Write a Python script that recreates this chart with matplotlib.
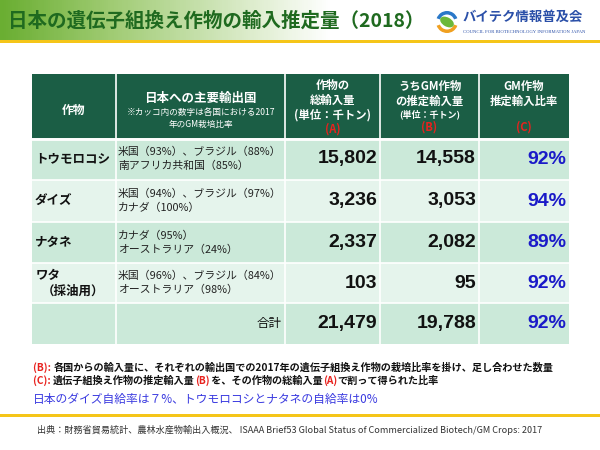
import matplotlib
matplotlib.use("Agg")
import matplotlib.pyplot as plt
import numpy as np
from matplotlib.patches import Rectangle, Wedge, Ellipse
from matplotlib.colors import LinearSegmentedColormap

plt.rcParams['font.family'] = ['Noto Sans CJK JP', 'DejaVu Sans']

# ---- data ----
title = "日本の遺伝子組換え作物の輸入推定量（2018）"
crops = ["トウモロコシ", "ダイズ", "ナタネ", "ワタ"]
crop_sub = ["", "", "", "（採油用）"]
countries = [
    ["米国（93%）、ブラジル（88%）", "南アフリカ共和国（85%）"],
    ["米国（94%）、ブラジル（97%）", "カナダ（100%）"],
    ["カナダ（95%）", "オーストラリア（24%）"],
    ["米国（96%）、ブラジル（84%）", "オーストラリア（98%）"],
]
total_import = [15802, 3236, 2337, 103]
gm_import = [14558, 3053, 2082, 95]
gm_ratio = [92, 94, 89, 92]
sum_total = 21479
sum_gm = 19788
sum_ratio = 92
total_label = "合計"

# ---- layout ----
W, H = 600, 450
fig = plt.figure(figsize=(6, 4.5), dpi=100)
ax = fig.add_axes([0, 0, 1, 1])
ax.set_xlim(0, W)
ax.set_ylim(H, 0)
ax.axis('off')

fig.canvas.draw()
r = fig.canvas.get_renderer()
def text_w(tobj):
    bb = tobj.get_window_extent(r)
    return bb.width
def next_x(tobj):
    bb = tobj.get_window_extent(r)
    return ax.transData.inverted().transform((bb.x1, bb.y0))[0]

# title gradient
cmap = LinearSegmentedColormap.from_list('g', [(0, '#6aae32'), (0.18, '#9fcb72'), (0.55, '#ffffff'), (1, '#ffffff')])
grad = np.linspace(0, 1, 300)[None, :]
ax.imshow(grad, extent=[0, W, 41, 0], cmap=cmap, aspect='auto', zorder=0)
ax.add_patch(Rectangle((0, 40), W, 2.5, color='#f5c518', lw=0, zorder=1))
ax.text(8, 21, title, fontsize=14.05, fontweight='bold', color='#1f6a1f', va='center', ha='left')

# logo
ax.add_patch(Wedge((447, 22), 11, 20, 160, width=3.5, color='#f0a020', lw=0))
ax.add_patch(Wedge((447, 22), 11, 200, 340, width=3.5, color='#2a78c8', lw=0))
ax.add_patch(Ellipse((447, 22), 15, 9, angle=30, color='#6cb83a', lw=0))
ax.text(463, 17, "バイテク情報普及会", fontsize=9.6, fontweight='bold', color='#2a4fa8', va='center', ha='left')
st = ax.text(463, 32, "COUNCIL FOR BIOTECHNOLOGY INFORMATION JAPAN", fontsize=4, color='#2a4fa8',
             va='center', ha='left', family='Liberation Serif')
w = text_w(st)
st.set_fontsize(4 * 120.0 / w)

# table geometry
xs = [32, 116, 285, 380, 479, 569]
hdr_top, hdr_bot = 74, 138
row_edges = [138, 180, 222, 263, 303, 344]
hdr_col = '#1b5e45'
row_cols = ['#cbe9d9', '#e5f4ec', '#cbe9d9', '#e5f4ec', '#cbe9d9']

ax.add_patch(Rectangle((xs[0], hdr_top), xs[-1] - xs[0], hdr_bot - hdr_top, color=hdr_col, lw=0))
for i in range(5):
    ax.add_patch(Rectangle((xs[0], row_edges[i]), xs[-1] - xs[0], row_edges[i + 1] - row_edges[i],
                           color=row_cols[i], lw=0))
for x in xs[1:-1]:
    ax.plot([x, x], [hdr_top, row_edges[-1]], color='white', lw=1.2)
for y in row_edges[1:-1]:
    ax.plot([xs[0], xs[-1]], [y, y], color='white', lw=1.2)
ax.plot([xs[0], xs[-1]], [hdr_bot + 0.5, hdr_bot + 0.5], color='white', lw=2)

# header text
wb = dict(color='white', fontweight='bold', ha='center', va='center')
ax.text((xs[0] + xs[1]) / 2, 110, "作物", fontsize=8.5, **wb)
cx = (xs[1] + xs[2]) / 2
ax.text(cx, 98, "日本への主要輸出国", fontsize=9, **wb)
ax.text(cx, 113, "※カッコ内の数字は各国における2017", fontsize=6.2, color='white', ha='center', va='center')
ax.text(cx, 125, "年のGM栽培比率", fontsize=6.2, color='white', ha='center', va='center')
cx = (xs[2] + xs[3]) / 2
ax.text(cx, 85, "作物の", fontsize=8.2, **wb)
ax.text(cx, 100, "総輸入量", fontsize=8.2, **wb)
ax.text(cx, 115, "(単位：千トン)", fontsize=8.2, **wb)
ax.text(cx, 129, "(A)", fontsize=8, color='#e8221e', fontweight='bold', ha='center', va='center')
cx = (xs[3] + xs[4]) / 2
ax.text(cx, 86, "うちGM作物", fontsize=8.2, **wb)
ax.text(cx, 101, "の推定輸入量", fontsize=8.2, **wb)
ax.text(cx, 114, "(単位：千トン)", fontsize=6.5, **wb)
ax.text(cx, 127, "(B)", fontsize=8, color='#e8221e', fontweight='bold', ha='center', va='center')
cx = (xs[4] + xs[5]) / 2
ax.text(cx, 86, "GM作物", fontsize=8.2, **wb)
ax.text(cx, 101, "推定輸入比率", fontsize=8.2, **wb)
ax.text(cx, 127, "(C)", fontsize=8, color='#e8221e', fontweight='bold', ha='center', va='center')

num_kw = dict(family=['Liberation Sans', 'DejaVu Sans'], fontweight='bold', fontsize=14, va='center', ha='right')
for i in range(4):
    yc = (row_edges[i] + row_edges[i + 1]) / 2
    if crop_sub[i]:
        ax.text(36, yc - 8, crops[i], fontsize=9, fontweight='bold', color='#111111', ha='left', va='center')
        ax.text(73, yc + 8, crop_sub[i], fontsize=9, fontweight='bold', color='#111111', ha='center', va='center')
    else:
        ax.text(35, yc, crops[i], fontsize=9, fontweight='bold', color='#111111', ha='left', va='center')
    ax.text(118, yc - 7, countries[i][0], fontsize=7.8, color='#222222', ha='left', va='center')
    ax.text(118, yc + 7, countries[i][1], fontsize=7.8, color='#222222', ha='left', va='center')
    ax.text(xs[3] - 3, yc, f"{total_import[i]:,}", color='#111111', **num_kw)
    ax.text(xs[4] - 3, yc, f"{gm_import[i]:,}", color='#111111', **num_kw)
    ax.text(xs[5] - 3, yc, f"{gm_ratio[i]}%", color='#1a1ac8', **num_kw)

yc = (row_edges[4] + row_edges[5]) / 2
ax.text(xs[2] - 3, yc, total_label, fontsize=9, color='#111111', ha='right', va='center')
ax.text(xs[3] - 3, yc, f"{sum_total:,}", color='#111111', **num_kw)
ax.text(xs[4] - 3, yc, f"{sum_gm:,}", color='#111111', **num_kw)
ax.text(xs[5] - 3, yc, f"{sum_ratio}%", color='#1a1ac8', **num_kw)

# notes
NF = 7.3
def rich(y, parts, x0=33):
    x = x0
    for s, c in parts:
        t = ax.text(x, y, s, fontsize=NF, fontweight='bold', color=c, ha='left', va='center')
        x = next_x(t)

red, blk = '#e8221e', '#111111'
rich(368, [("(B): ", red), ("各国からの輸入量に、それぞれの輸出国での2017年の遺伝子組換え作物の栽培比率を掛け、足し合わせた数量", blk)])
rich(381, [("(C): ", red), ("遺伝子組換え作物の推定輸入量", blk), ("(B)", red), (" を、その作物の総輸入量", blk),
           ("(A)", red), ("で割って得られた比率", blk)])
ax.text(33, 399, "日本のダイズ自給率は７%、トウモロコシとナタネの自給率は0%", fontsize=8.5, color='#3a3ae0',
        ha='left', va='center')

ax.add_patch(Rectangle((0, 414), W, 2.5, color='#f5c518', lw=0))
ax.text(37, 430, "出典：財務省貿易統計、農林水産物輸出入概況、 ISAAA Brief53 Global Status of Commercialized Biotech/GM Crops: 2017",
        fontsize=6.55, color='#333333', ha='left', va='center')

fig.savefig("out.png", dpi=100)
